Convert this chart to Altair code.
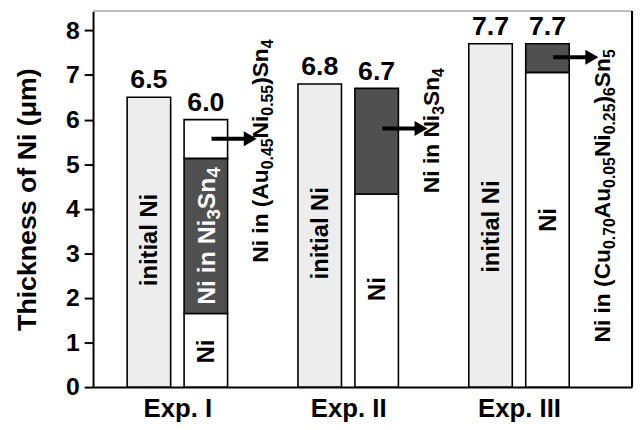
import re
import altair as alt
import pandas as pd

# ---- data ----
experiments = ["Exp. I", "Exp. II", "Exp. III"]
initial_ni = [6.5, 6.8, 7.7]          # initial Ni thickness (um)
after_total = [6.0, 6.7, 7.7]         # total Ni after reaction (um)
ni_left = [1.65, 4.33, 7.06]          # unreacted Ni remaining
imc_top = [5.13, 6.7, 7.7]            # top of Ni consumed in the dark IMC segment
inner_imc_label = ["Ni in Ni_{3}Sn_{4}", "", ""]
annot_texts = ["Ni in (Au_{0.45}Ni_{0.55})Sn_{4}", "Ni in Ni_{3}Sn_{4}",
               "Ni in (Cu_{0.70}Au_{0.05}Ni_{0.25})_{6}Sn_{5}"]
arrow_levels = [5.57, 5.8, 7.4]
annot_bottoms = [2.79, 4.35, 1.0]
initial_label_y = [3.3, 3.45, 3.6]
ni_label_y = [0.8, 2.2, 3.75]

FONT = "Liberation Sans"
HALF = 0.382
XMIN, XMAX = -0.981, 8.485
YMAX = 8.43
W, H = 545, 380
PXX = W / (XMAX - XMIN)
PXY = H / YMAX
xscale = alt.Scale(domain=[XMIN, XMAX], nice=False, zero=False)
yscale = alt.Scale(domain=[0, YMAX], nice=False)

# Arial-Bold advance widths (per 1000 em) for laying out rotated rich text
CW = {' ': 278, '(': 333, ')': 333, '.': 278, 'A': 722, 'C': 722, 'N': 722, 'S': 667,
      'i': 278, 'n': 611, 'u': 611, 'l': 278, 't': 333, 'a': 556}
for d in "0123456789":
    CW[d] = 556


def twidth(s, size):
    return sum(CW.get(ch, 556) for ch in s) * size / 1000.0


def rich_rows(markup, xc, y, size, sub_size, color, centered):
    parts = []
    for m in re.finditer(r"_\{([^}]*)\}|([^_]+)", markup):
        if m.group(1) is not None:
            parts.append((m.group(1), True))
        else:
            parts.append((m.group(2), False))
    total = sum(twidth(t, sub_size if s else size) for t, s in parts)
    d = -total / 2 if centered else 0.0
    rows = []
    for t, s in parts:
        fs = sub_size if s else size
        shift = 0.36 * size + (5 if s else 0)
        rows.append(dict(x=xc + shift / PXX, y=y + d / PXY, t=t, fs=fs, c=color))
        d += twidth(t, fs)
    return rows


seg_rows, val_rows, rich, arr_rows = [], [], [], []
for i, exp in enumerate(experiments):
    a, b = 3 * i, 3 * i + 1
    seg_rows.append(dict(slot=a, y0=0, y1=initial_ni[i], kind="init"))
    seg_rows.append(dict(slot=b, y0=0, y1=ni_left[i], kind="ni"))
    seg_rows.append(dict(slot=b, y0=ni_left[i], y1=imc_top[i], kind="imc"))
    if after_total[i] > imc_top[i]:
        seg_rows.append(dict(slot=b, y0=imc_top[i], y1=after_total[i], kind="ni"))
    val_rows.append(dict(slot=a, v=initial_ni[i]))
    val_rows.append(dict(slot=b, v=after_total[i]))
    rich += rich_rows("initial Ni", a, initial_label_y[i], 24, 17, "black", True)
    rich += rich_rows("Ni", b, ni_label_y[i], 24, 17, "black", True)
    if inner_imc_label[i]:
        rich += rich_rows(inner_imc_label[i], b, (ni_left[i] + imc_top[i]) / 2,
                          25, 19, "white", True)
    rich += rich_rows(annot_texts[i], b + 0.95, annot_bottoms[i], 23, 16, "black", False)
    arr_rows.append(dict(s0=b + 0.1, s1=b + 0.78, y=arrow_levels[i]))

seg = pd.DataFrame(seg_rows)
vals = pd.DataFrame(val_rows)
richdf = pd.DataFrame(rich)
arrs = pd.DataFrame(arr_rows)

label_expr = "datum.value < 2 ? '%s' : datum.value < 5 ? '%s' : '%s'" % tuple(experiments)

bars = alt.Chart(seg).transform_calculate(
    xa=f"datum.slot - {HALF}", xb=f"datum.slot + {HALF}"
).mark_rect(stroke="black", strokeWidth=1.6).encode(
    x=alt.X("xa:Q", scale=xscale, axis=alt.Axis(
        values=[0.5, 3.5, 6.5], labelExpr=label_expr, ticks=False, grid=False,
        title=None, domainColor="black", domainWidth=2, labelFontSize=26,
        labelFont=FONT, labelFontWeight="bold", labelColor="black", labelPadding=9)),
    x2="xb:Q",
    y=alt.Y("y0:Q", scale=yscale, axis=alt.Axis(
        values=list(range(0, 9)), tickSize=9, tickWidth=2, tickColor="black",
        domainColor="black", domainWidth=2, grid=False, labelFontSize=25,
        labelFont=FONT, labelFontWeight="bold", labelColor="black", labelPadding=5,
        title="Thickness of Ni (μm)", titleFont=FONT, titleFontSize=27,
        titleFontWeight="bold", titleColor="black", titlePadding=24)),
    y2="y1:Q",
    fill=alt.Fill("kind:N", scale=alt.Scale(domain=["init", "ni", "imc"],
                                            range=["#ededed", "#ffffff", "#505050"]),
                  legend=None),
)

values = alt.Chart(vals).mark_text(
    font=FONT, fontSize=27, fontWeight="bold", baseline="bottom", dy=-3, color="black"
).encode(
    x=alt.X("slot:Q", scale=xscale), y=alt.Y("v:Q", scale=yscale),
    text=alt.Text("v:Q", format=".1f"),
)

texts = alt.Chart(richdf).mark_text(
    font=FONT, fontWeight="bold", angle=270, align="left", baseline="alphabetic"
).encode(
    x=alt.X("x:Q", scale=xscale), y=alt.Y("y:Q", scale=yscale),
    text="t:N", size=alt.Size("fs:Q", scale=None), color=alt.Color("c:N", scale=None),
)

arrow_lines = alt.Chart(arrs).mark_rule(color="black", strokeWidth=4).encode(
    x=alt.X("s0:Q", scale=xscale), x2="s1:Q", y=alt.Y("y:Q", scale=yscale),
)
arrow_heads = alt.Chart(arrs).mark_point(
    shape="triangle-right", filled=True, size=230, color="black", opacity=1
).encode(
    x=alt.X("s1:Q", scale=xscale), y=alt.Y("y:Q", scale=yscale),
)

top_line = alt.Chart(seg).mark_rule(color="#bbbbbb", strokeWidth=1).encode(
    x=alt.value(0), x2=alt.value(W), y=alt.value(0))
right_line = alt.Chart(seg).mark_rule(color="black", strokeWidth=2).encode(
    x=alt.value(W), y=alt.value(0), y2=alt.value(H))

chart = alt.layer(
    bars, values, texts, arrow_lines, arrow_heads, top_line, right_line
).properties(
    width=W, height=H,
    autosize=alt.AutoSizeParams(type="none"),
    padding={"left": 86, "top": 1, "right": 2, "bottom": 34},
).configure_view(stroke=None)

chart.save("out.html", embed_options={"renderer": "svg", "actions": False})
